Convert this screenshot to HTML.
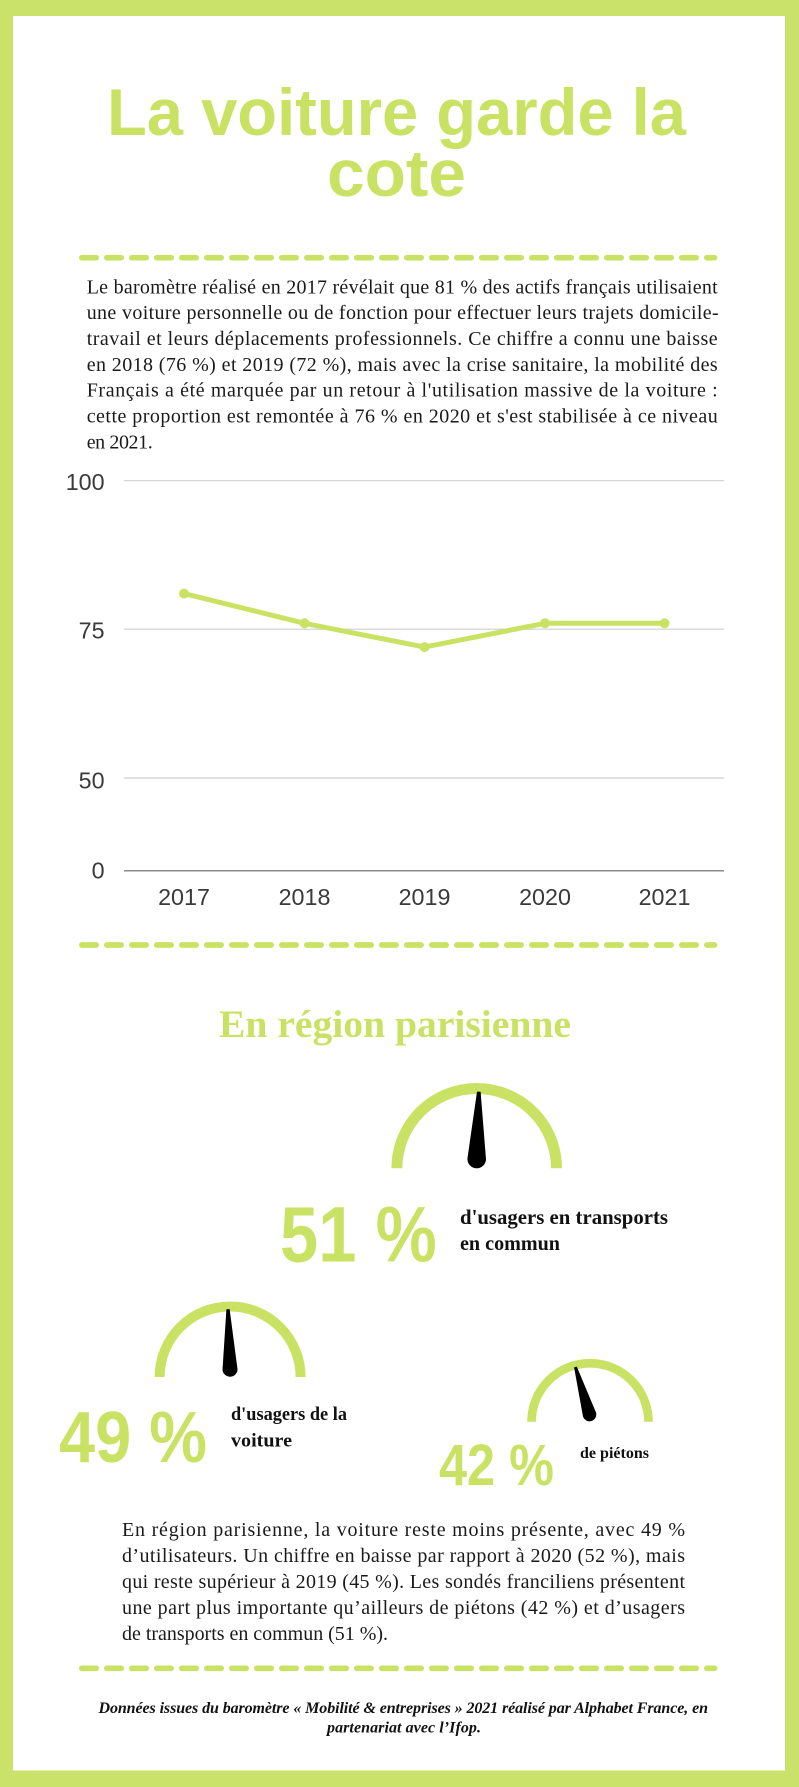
<!DOCTYPE html>
<html lang="fr">
<head>
<meta charset="utf-8">
<title>La voiture garde la cote</title>
<style>
  html, body { margin: 0; padding: 0; background: #cbe26a; }
  svg { display: block; }
</style>
</head>
<body>
<svg xmlns="http://www.w3.org/2000/svg" width="799" height="1787" viewBox="0 0 799 1787">
  <!-- border + white panel -->
  <rect x="0" y="0" width="799" height="1787" fill="#cbe26a"/>
  <rect x="13" y="16" width="772" height="1754.5" fill="#ffffff"/>

  <!-- Title -->
  <g font-family="'Liberation Sans', 'DejaVu Sans', sans-serif" font-weight="bold" font-size="66" fill="#c9e264">
    <text x="107" y="135" textLength="579" lengthAdjust="spacingAndGlyphs">La voiture garde la</text>
    <text x="327" y="196" textLength="139" lengthAdjust="spacingAndGlyphs">cote</text>
  </g>

  <!-- dashed separators -->
  <g stroke="#c9e264" stroke-width="5.7" stroke-linecap="round" stroke-dasharray="14.3 10.7" fill="none">
    <path d="M81.85 257.7 H714.5"/>
    <path d="M81.85 945 H714.5"/>
    <path d="M81.85 1668.3 H714.5"/>
  </g>

  <!-- Paragraph 1 -->
  <g font-family="'Liberation Serif', 'DejaVu Serif', serif" font-size="20" fill="#1a1a1a">
    <text x="86.7" y="293.3" textLength="631" lengthAdjust="spacing">Le baromètre réalisé en 2017 révélait que 81 % des actifs français utilisaient</text>
    <text x="86.7" y="319.1" textLength="632" lengthAdjust="spacing">une voiture personnelle ou de fonction pour effectuer leurs trajets domicile-</text>
    <text x="86.7" y="345" textLength="631" lengthAdjust="spacing">travail et leurs déplacements professionnels. Ce chiffre a connu une baisse</text>
    <text x="86.7" y="370.8" textLength="631" lengthAdjust="spacing">en 2018 (76 %) et 2019 (72 %), mais avec la crise sanitaire, la mobilité des</text>
    <text x="86.7" y="396.6" textLength="631" lengthAdjust="spacing">Français a été marquée par un retour à l'utilisation massive de la voiture :</text>
    <text x="86.7" y="422.5" textLength="631" lengthAdjust="spacing">cette proportion est remontée à 76 % en 2020 et s'est stabilisée à ce niveau</text>
    <text x="86.7" y="448.3" textLength="66" lengthAdjust="spacing">en 2021.</text>
  </g>

  <!-- Chart -->
  <g stroke="#cfcfcf" stroke-width="1.2">
    <line x1="124" y1="480.7" x2="724" y2="480.7"/>
    <line x1="124" y1="629.2" x2="724" y2="629.2"/>
    <line x1="124" y1="778" x2="724" y2="778"/>
  </g>
  <line x1="124" y1="870.7" x2="724" y2="870.7" stroke="#8a8a8a" stroke-width="1.5"/>

  <g font-family="'Liberation Sans', 'DejaVu Sans', sans-serif" font-size="23.3" fill="#3a3a3a" text-anchor="end">
    <text x="104.6" y="490">100</text>
    <text x="104.6" y="638.5">75</text>
    <text x="104.6" y="788.3">50</text>
    <text x="104.6" y="878.3">0</text>
  </g>
  <g font-family="'Liberation Sans', 'DejaVu Sans', sans-serif" font-size="23.3" fill="#3a3a3a" text-anchor="middle">
    <text x="184" y="905">2017</text>
    <text x="304.5" y="905">2018</text>
    <text x="424.5" y="905">2019</text>
    <text x="545" y="905">2020</text>
    <text x="664.5" y="905">2021</text>
  </g>

  <polyline points="184,593.6 304.5,623.3 424.5,647.1 545,623.3 664.5,623.3" fill="none" stroke="#c9e264" stroke-width="5" stroke-linejoin="round" stroke-linecap="round"/>
  <g fill="#c9e264">
    <circle cx="184" cy="593.6" r="5"/>
    <circle cx="304.5" cy="623.3" r="5"/>
    <circle cx="424.5" cy="647.1" r="5"/>
    <circle cx="545" cy="623.3" r="5"/>
    <circle cx="664.5" cy="623.3" r="5"/>
  </g>

  <!-- Section heading -->
  <text x="219" y="1037" font-family="'Liberation Serif', 'DejaVu Serif', serif" font-weight="bold" font-size="39" fill="#c9e264" textLength="352" lengthAdjust="spacingAndGlyphs">En région parisienne</text>

  <!-- Gauge 1 (51 %) -->
  <path d="M396.9 1168.3 A79.8 79.8 0 0 1 556.5 1168.3" fill="none" stroke="#c9e264" stroke-width="11"/>
  <path transform="translate(476.7 1159) rotate(1.8)" d="M-1.8 -67.3 L1.8 -67.3 L9.3 0 A9.3 9.3 0 0 1 -9.3 0 Z" fill="#000"/>
  <text x="280" y="1261.7" font-family="'Liberation Sans', 'DejaVu Sans', sans-serif" font-weight="bold" font-size="79" fill="#c9e264" textLength="156.7" lengthAdjust="spacingAndGlyphs">51 %</text>
  <g font-family="'Liberation Serif', 'DejaVu Serif', serif" font-weight="bold" font-size="21" fill="#111">
    <text x="460" y="1224" textLength="208" lengthAdjust="spacingAndGlyphs">d'usagers en transports</text>
    <text x="460" y="1250" textLength="100" lengthAdjust="spacingAndGlyphs">en commun</text>
  </g>

  <!-- Gauge 2 (49 %) -->
  <path d="M159.6 1377 A70.5 70.5 0 0 1 300.6 1377" fill="none" stroke="#c9e264" stroke-width="10"/>
  <path transform="translate(230 1369.2) rotate(-1.9)" d="M-1.6 -60 L1.6 -60 L7.5 0 A7.5 7.5 0 0 1 -7.5 0 Z" fill="#000"/>
  <text x="59" y="1462" font-family="'Liberation Sans', 'DejaVu Sans', sans-serif" font-weight="bold" font-size="72.5" fill="#c9e264" textLength="148" lengthAdjust="spacingAndGlyphs">49 %</text>
  <g font-family="'Liberation Serif', 'DejaVu Serif', serif" font-weight="bold" font-size="18.5" fill="#111">
    <text x="231" y="1420" textLength="116" lengthAdjust="spacingAndGlyphs">d'usagers de la</text>
    <text x="231" y="1446.7" textLength="61" lengthAdjust="spacingAndGlyphs">voiture</text>
  </g>

  <!-- Gauge 3 (42 %) -->
  <path d="M531.55 1421.7 A58.45 58.45 0 0 1 648.45 1421.7" fill="none" stroke="#c9e264" stroke-width="8.7"/>
  <path transform="translate(589.5 1414.5) rotate(-16.5)" d="M-1.4 -49.5 L1.4 -49.5 L6.8 0 A6.8 6.8 0 0 1 -6.8 0 Z" fill="#000"/>
  <text x="439" y="1485" font-family="'Liberation Sans', 'DejaVu Sans', sans-serif" font-weight="bold" font-size="58" fill="#c9e264" textLength="115" lengthAdjust="spacingAndGlyphs">42 %</text>
  <text x="580" y="1458" font-family="'Liberation Serif', 'DejaVu Serif', serif" font-weight="bold" font-size="16" fill="#111" textLength="69" lengthAdjust="spacingAndGlyphs">de piétons</text>

  <!-- Paragraph 2 -->
  <g font-family="'Liberation Serif', 'DejaVu Serif', serif" font-size="20" fill="#1a1a1a">
    <text x="122" y="1536" textLength="563" lengthAdjust="spacing">En région parisienne, la voiture reste moins présente, avec 49 %</text>
    <text x="122" y="1562" textLength="563" lengthAdjust="spacing">d’utilisateurs. Un chiffre en baisse par rapport à 2020 (52 %), mais</text>
    <text x="122" y="1588" textLength="563" lengthAdjust="spacing">qui reste supérieur à 2019 (45 %). Les sondés franciliens présentent</text>
    <text x="122" y="1614" textLength="563" lengthAdjust="spacing">une part plus importante qu’ailleurs de piétons (42 %) et d’usagers</text>
    <text x="122" y="1640" textLength="266" lengthAdjust="spacing">de transports en commun (51 %).</text>
  </g>

  <!-- Footnote -->
  <g font-family="'Liberation Serif', 'DejaVu Serif', serif" font-weight="bold" font-style="italic" font-size="16" fill="#111">
    <text x="98.5" y="1713" textLength="609.5" lengthAdjust="spacing">Données issues du baromètre « Mobilité &amp; entreprises » 2021 réalisé par Alphabet France, en</text>
    <text x="327" y="1732.5" textLength="154" lengthAdjust="spacing">partenariat avec l’Ifop.</text>
  </g>
</svg>
</body>
</html>
